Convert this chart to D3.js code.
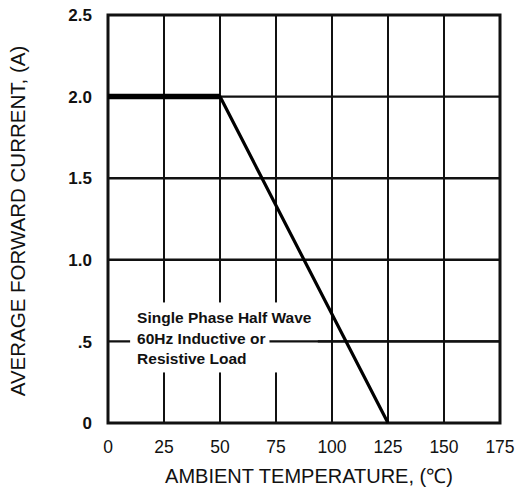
<!DOCTYPE html>
<html>
<head>
<meta charset="utf-8">
<script src="https://cdn.jsdelivr.net/npm/d3@7"></script>
<style>
  body { margin: 0; background: #fff; }
  svg { display: block; }
  text { font-family: "Liberation Sans", Arial, sans-serif; fill: #111; }
</style>
</head>
<body>
<div id="chart"></div>
<script>
// derating curve
const temperature = [0, 50, 125];
const current = [2.0, 2.0, 0];

const xTicks = [0, 25, 50, 75, 100, 125, 150, 175];
const yTicks = [0, 0.5, 1.0, 1.5, 2.0, 2.5];
const yTickLabels = ["0", ".5", "1.0", "1.5", "2.0", "2.5"];
const noteLines = ["Single Phase Half Wave", "60Hz Inductive or", "Resistive Load"];

const width = 520, height = 493;
const margin = {top: 15, right: 20, bottom: 70, left: 108};

const svg = d3.select("#chart").append("svg")
    .attr("width", width)
    .attr("height", height);

const x = d3.scaleLinear().domain([0, 175]).range([margin.left, width - margin.right]);
const y = d3.scaleLinear().domain([0, 2.5]).range([height - margin.bottom, margin.top]);

// grid
const grid = svg.append("g").attr("stroke", "#111");
grid.selectAll("line.v")
    .data(xTicks.slice(1, -1))
    .enter().append("line")
    .attr("class", "v")
    .attr("x1", d => x(d)).attr("x2", d => x(d))
    .attr("y1", y(0)).attr("y2", y(2.5))
    .attr("stroke-width", 2);
grid.selectAll("line.h")
    .data(yTicks.slice(1, -1))
    .enter().append("line")
    .attr("class", "h")
    .attr("x1", x(0)).attr("x2", x(175))
    .attr("y1", d => y(d)).attr("y2", d => y(d))
    .attr("stroke-width", 2.4);

// note with white patch behind it
const t0 = x(13), b0 = y(0.61);
const note = svg.append("g");
const patch = note.append("rect").attr("fill", "#fff");
const noteText = note.append("text")
    .attr("font-size", 15.5)
    .attr("font-weight", "bold")
    .attr("transform", `translate(${t0},${b0})`);
noteText.selectAll("tspan")
    .data(noteLines)
    .enter().append("tspan")
    .attr("x", 0)
    .attr("dy", (d, i) => i === 0 ? 0 : 20.5)
    .text(d => d);
const bb = noteText.node().getBBox();
patch.attr("x", t0 + bb.x - 7)
    .attr("y", b0 + bb.y - 7)
    .attr("width", bb.width + 13)
    .attr("height", bb.height + 12);
// the 0.5 grid line picks up again after the second line of the note
const line2 = noteText.selectAll("tspan").nodes()[1].getComputedTextLength();
note.append("line")
    .attr("x1", t0 + line2 + 4).attr("x2", x(175))
    .attr("y1", y(0.5)).attr("y2", y(0.5))
    .attr("stroke", "#111").attr("stroke-width", 2.4);

// frame
svg.append("rect")
    .attr("x", x(0)).attr("y", y(2.5))
    .attr("width", x(175) - x(0)).attr("height", y(0) - y(2.5))
    .attr("fill", "none").attr("stroke", "#111").attr("stroke-width", 3);

// curve
const pts = temperature.map((t, i) => [t, current[i]]);
const line = d3.line().x(d => x(d[0])).y(d => y(d[1]));
svg.append("path")
    .attr("d", line(pts))
    .attr("fill", "none").attr("stroke", "#000")
    .attr("stroke-width", 3.2).attr("stroke-linejoin", "round");
svg.append("path")
    .attr("d", line(pts.slice(0, 2)))
    .attr("fill", "none").attr("stroke", "#000").attr("stroke-width", 5.5);

// tick labels
svg.append("g").selectAll("text")
    .data(xTicks)
    .enter().append("text")
    .attr("x", d => x(d))
    .attr("y", y(0) + 30)
    .attr("text-anchor", "middle")
    .attr("font-size", 17.5)
    .text(d => d);
svg.append("g").selectAll("text")
    .data(yTicks)
    .enter().append("text")
    .attr("x", x(0) - 16)
    .attr("y", d => y(d))
    .attr("dy", "0.36em")
    .attr("text-anchor", "end")
    .attr("font-size", 17)
    .attr("font-weight", "bold")
    .text((d, i) => yTickLabels[i]);

// axis titles
svg.append("text")
    .attr("x", 309).attr("y", 483)
    .attr("text-anchor", "middle")
    .attr("font-size", 20)
    .text("AMBIENT TEMPERATURE, (℃)");
svg.append("text")
    .attr("transform", "translate(25,221) rotate(-90)")
    .attr("text-anchor", "middle")
    .attr("font-size", 20.5)
    .text("AVERAGE FORWARD CURRENT, (A)");
</script>
</body>
</html>
